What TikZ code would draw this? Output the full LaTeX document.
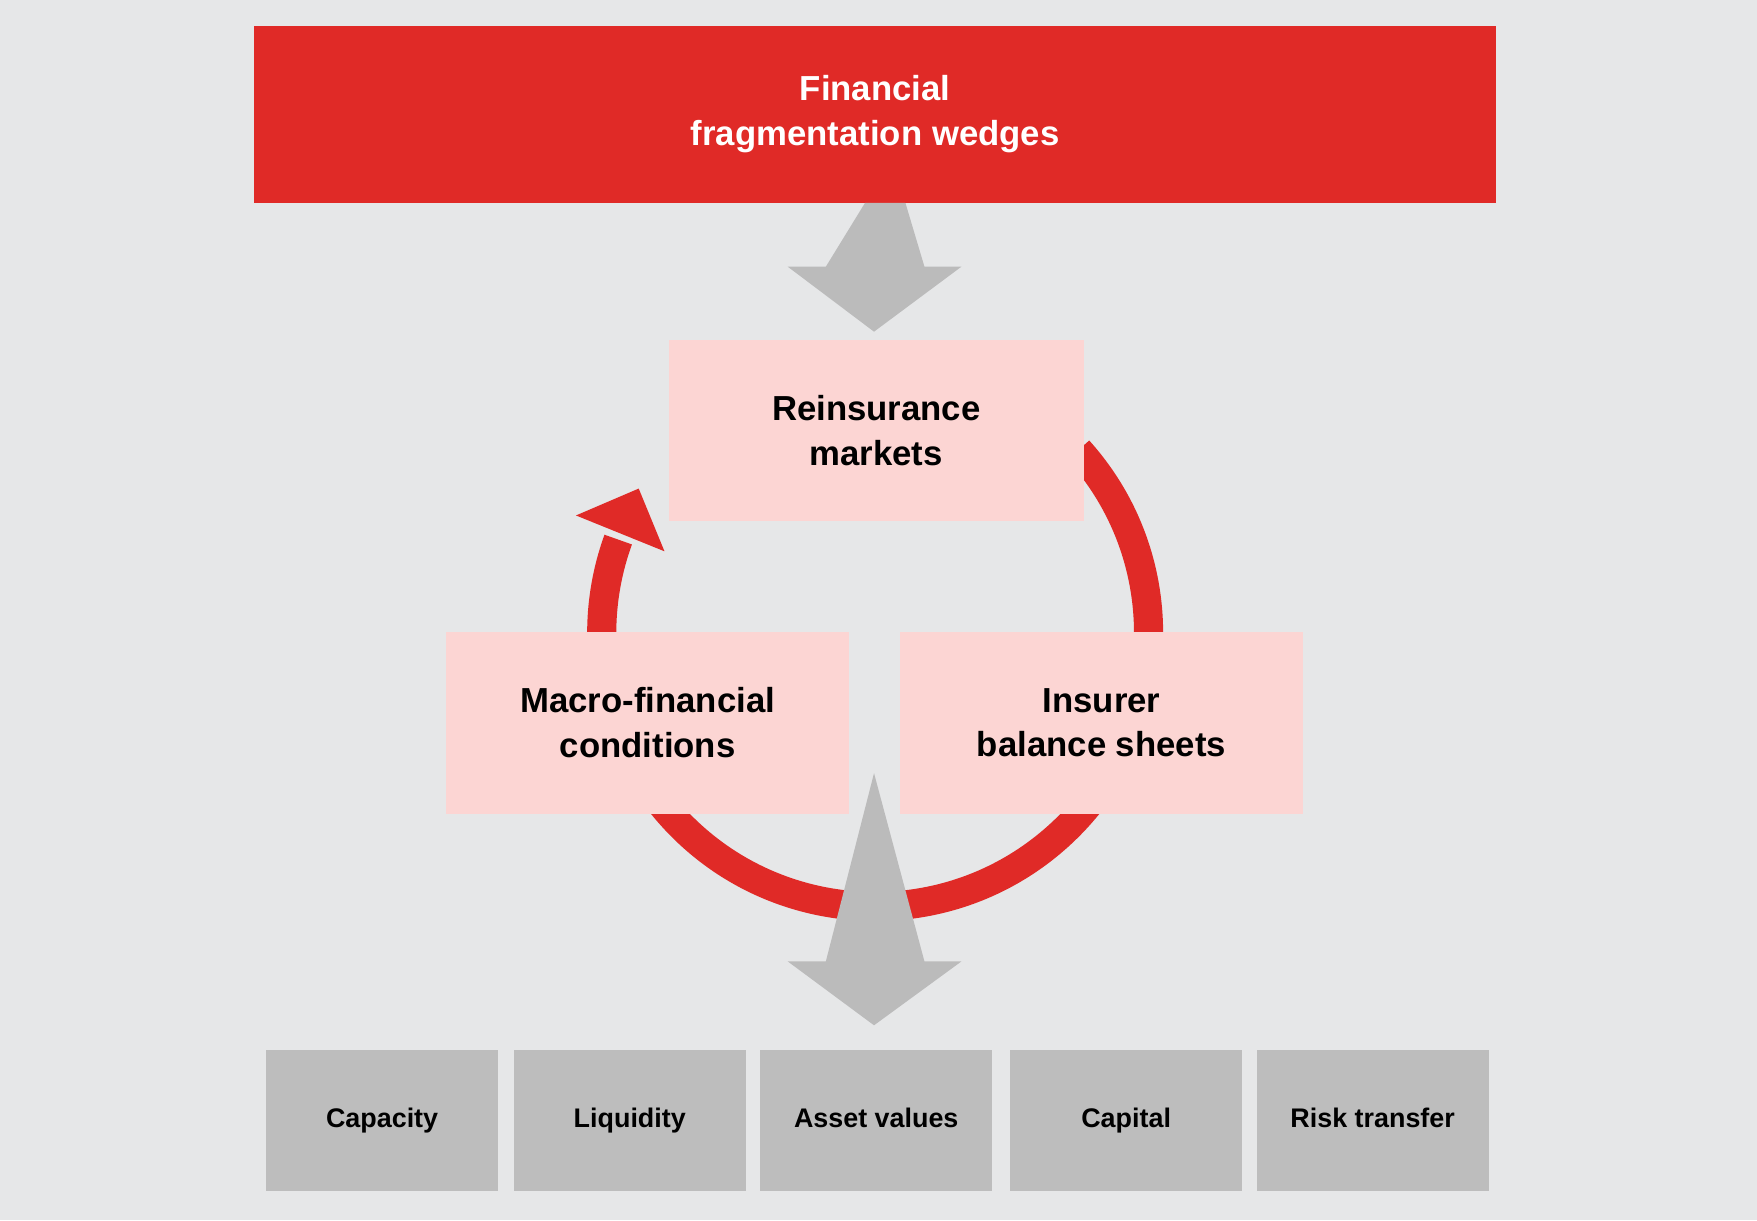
\documentclass[tikz,border=0pt]{standalone}
\usepackage{fontspec}
\setmainfont{Liberation Sans}
\definecolor{bggray}{HTML}{E6E7E8}
\definecolor{wedgered}{HTML}{E02A27}
\definecolor{palered}{HTML}{FCD5D3}
\definecolor{boxgray}{HTML}{BDBDBD}
\definecolor{arrowgray}{HTML}{BBBBBB}
\tikzset{
  mid/.style={fill=palered, minimum width=360pt, minimum height=162pt, align=center,
    font=\fontsize{31}{40}\selectfont\bfseries},
  result/.style={fill=boxgray, minimum width=207pt, minimum height=126pt,
    text height=17pt, text depth=5pt, font=\fontsize{24}{30}\selectfont\bfseries}
}
\begin{document}
\begin{tikzpicture}[x=1pt,y=-1pt]
\fill[bggray] (0,0) rectangle (1568,1089);
\useasboundingbox (0,0) rectangle (1568,1089);

% top box and arrow
\node[fill=wedgered, text=white, minimum width=1108pt, minimum height=158pt, align=center,
  font=\fontsize{31}{40}\selectfont\bfseries] (wedges) at (781,102) {Financial\\fragmentation wedges};
\fill[arrowgray] (772,181) -- (808,181) -- (825,238) -- (858,238) -- (780,296) -- (703,238) -- (737,238) -- cycle;

% cycle
\draw[wedgered, line width=26pt] (781,565) ++(-42:244) arc[start angle=-42, end angle=200, radius=244];
\fill[wedgered] (514,460) -- (570,436) -- (593,492) -- cycle;

\node[mid, minimum width=370pt] (reins) at (782,384) {Reinsurance\\markets};
\node[mid] (macro) at (578,645) {Macro-financial\\conditions};
\node[mid] (insurer) at (983,645) {Insurer\\balance sheets};

% bottom arrow
\fill[arrowgray] (780,690) -- (825,858) -- (858,858) -- (780,915) -- (703,858) -- (737,858) -- cycle;

\foreach \x/\name/\txt in {341/cap/Capacity, 562/liq/Liquidity, 782/asset/Asset values, 1005/capital/Capital, 1225/risk/Risk transfer}
  \node[result] (\name) at (\x,1000) {\txt};
\end{tikzpicture}
\end{document}
